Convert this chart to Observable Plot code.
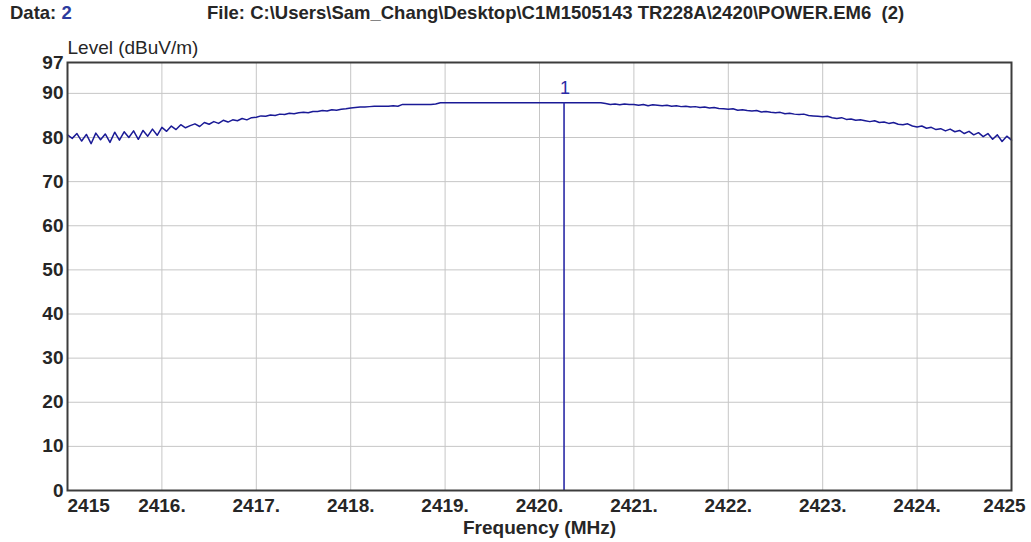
<!DOCTYPE html>
<html>
<head>
<meta charset="utf-8">
<script src="https://cdn.jsdelivr.net/npm/d3@7"></script>
<script src="https://cdn.jsdelivr.net/npm/@observablehq/plot@0.6"></script>
<style>
  body { margin: 0; background: #fff; font-family: "Liberation Sans", Arial, sans-serif; }
  #head { position: relative; width: 1031px; height: 30px; font-weight: bold; font-size: 18.5px; color: #262626; white-space: pre; }
  #head .item { position: absolute; top: 2px; }
  #head .num { color: #2b3b9e; }
</style>
</head>
<body>
<div id="head"></div>
<div id="chart"></div>
<script>
// Header information
const dataSet = "2";
const fileName = "C:\\Users\\Sam_Chang\\Desktop\\C1M1505143 TR228A\\2420\\POWER.EM6  (2)";

// Sweep: start frequency and step (MHz), levels in dBuV/m
const sweepStart = 2415;
const sweepStep = 0.05;
const levels = [
  // 2415.00 – 2415.95
  80.6, 79.8, 80.9, 79.2, 80.7, 78.6, 81.0, 79.5, 80.8, 78.9,
  81.2, 79.4, 81.3, 80.0, 81.5, 79.6, 81.6, 80.3, 81.9, 80.5,
  // 2416.00 – 2416.95
  82.3, 81.4, 82.6, 81.8, 82.9, 82.2, 82.7, 83.1, 82.5, 83.4,
  83.0, 83.6, 83.2, 83.9, 83.5, 84.0, 83.8, 84.3, 84.0, 84.5,
  // 2417.00 – 2417.95
  84.6, 84.9, 84.8, 85.1, 85.0, 85.3, 85.2, 85.5, 85.4, 85.6,
  85.7, 85.6, 85.9, 85.9, 86.1, 86.0, 86.3, 86.2, 86.4, 86.5,
  // 2418.00 – 2418.95
  86.7, 86.8, 86.9, 86.9, 87.0, 87.1, 87.1, 87.1, 87.1, 87.2,
  87.1, 87.5, 87.5, 87.5, 87.5, 87.5, 87.5, 87.5, 87.6, 87.9,
  // 2419.00 – 2419.95
  87.9, 87.9, 87.9, 87.9, 87.9, 87.9, 87.9, 87.9, 87.9, 87.9,
  87.9, 87.9, 87.9, 87.9, 87.9, 87.9, 87.9, 87.9, 87.9, 87.9,
  // 2420.00 – 2420.95
  87.9, 87.9, 87.9, 87.9, 87.9, 87.9, 87.9, 87.9, 87.9, 87.9,
  87.9, 87.9, 87.9, 87.9, 87.7, 87.5, 87.6, 87.4, 87.6, 87.5,
  // 2421.00 – 2421.95
  87.5, 87.3, 87.5, 87.2, 87.4, 87.3, 87.2, 87.3, 87.1, 87.2,
  87.0, 87.1, 86.9, 87.0, 86.8, 86.9, 86.7, 86.8, 86.6, 86.5,
  // 2422.00 – 2422.95
  86.4, 86.5, 86.2, 86.3, 86.1, 86.0, 86.1, 85.8, 85.9, 85.7,
  85.6, 85.7, 85.4, 85.5, 85.3, 85.2, 85.3, 85.0, 84.9, 84.8,
  // 2423.00 – 2423.95
  84.7, 84.8, 84.5, 84.3, 84.5, 84.1, 84.2, 83.9, 84.0, 83.8,
  83.6, 83.8, 83.4, 83.5, 83.2, 83.4, 83.0, 82.9, 83.1, 82.6,
  // 2424.00 – 2425.00
  82.4, 82.6, 82.1, 82.3, 81.8, 82.0, 81.5, 81.9, 81.3, 81.6,
  80.9, 81.4, 80.6, 81.1, 80.2, 80.9, 79.6, 80.6, 79.1, 80.3,
  79.4
];

// Marker 1
const markerLabels = ["1"];
const markerFreqs = [2420.26];
const markerLevels = [87.9];

// Axes
const xTicks = [2415, 2416, 2417, 2418, 2419, 2420, 2421, 2422, 2423, 2424, 2425];
const yTicks = [0, 10, 20, 30, 40, 50, 60, 70, 80, 90, 97];
const xTitle = "Frequency (MHz)";
const yTitle = "Level (dBuV/m)";

const traceColor = "#1a1a96";
const markerColor = "#2a2aa6";
const textColor = "#262626";

// Header line
const head = document.getElementById("head");
head.innerHTML =
  `<span class="item" style="left:10px">Data: <span class="num">${dataSet}</span></span>` +
  `<span class="item" style="left:207px"></span>`;
head.querySelectorAll(".item")[1].textContent = "File: " + fileName;

const trace = levels.map((v, i) => ({ freq: sweepStart + i * sweepStep, level: v }));
const markers = markerLabels.map((t, i) => ({ label: t, freq: markerFreqs[i], level: markerLevels[i] }));

const innerX = xTicks.slice(1, -1);
const innerY = yTicks.filter(v => v > yTicks[0] && v < yTicks[yTicks.length - 1]);

const tickFont = 19;

const chart = Plot.plot({
  width: 1031,
  height: 512,
  marginLeft: 67,
  marginRight: 20,
  marginTop: 32,
  marginBottom: 52,
  x: { domain: [xTicks[0], xTicks[xTicks.length - 1]] },
  y: { domain: [yTicks[0], yTicks[yTicks.length - 1]] },
  style: { fontFamily: "'Liberation Sans', Arial, sans-serif", fontSize: "19px", color: textColor, background: "#fff" },
  marks: [
    Plot.gridX(innerX, { stroke: "#c6c6c6", strokeOpacity: 1, strokeWidth: 1 }),
    Plot.gridY(innerY, { stroke: "#c6c6c6", strokeOpacity: 1, strokeWidth: 1 }),
    Plot.line(trace, { x: "freq", y: "level", stroke: traceColor, strokeWidth: 1.5 }),
    Plot.ruleX(markers, { x: "freq", y1: 0, y2: "level", stroke: markerColor, strokeWidth: 1.6 }),
    Plot.text(markers, { x: "freq", y: "level", text: "label", dy: -14, dx: 1, fill: markerColor, fontSize: 18 }),
    Plot.frame({ stroke: "#3c3c3c", strokeWidth: 2 }),
    Plot.axisY(yTicks, { tickSize: 0, tickPadding: 4, fontWeight: "bold", fontSize: tickFont, label: null }),
    Plot.axisX(innerX, { tickSize: 0, tickPadding: 8, fontWeight: "bold", fontSize: tickFont, label: null, tickFormat: d => d + "." }),
    Plot.axisX([xTicks[0]], { tickSize: 0, tickPadding: 8, fontWeight: "bold", fontSize: tickFont, label: null, textAnchor: "start", tickFormat: d => String(d) }),
    Plot.axisX([xTicks[xTicks.length - 1]], { tickSize: 0, tickPadding: 8, fontWeight: "bold", fontSize: tickFont, label: null, dx: -7, tickFormat: d => String(d) }),
    Plot.text([yTitle], { frameAnchor: "top-left", text: d => d, dy: -9, textAnchor: "start", lineAnchor: "bottom", fontSize: 19 }),
    Plot.text([xTitle], { frameAnchor: "bottom", text: d => d, dy: 43, fontWeight: "bold", fontSize: 19 })
  ]
});
document.getElementById("chart").appendChild(chart);
</script>
</body>
</html>
